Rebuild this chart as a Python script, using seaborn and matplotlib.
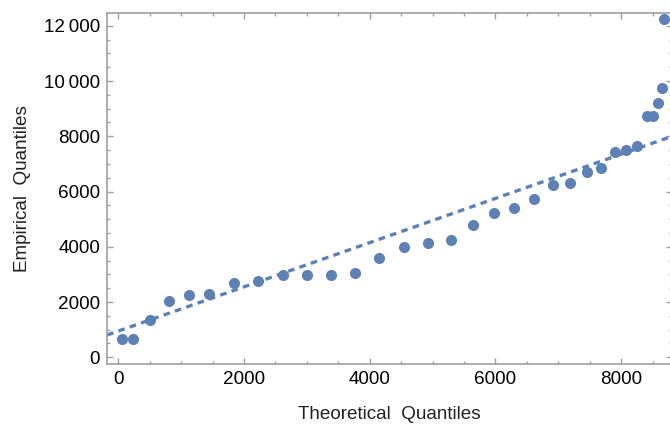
import matplotlib
matplotlib.use("Agg")
import matplotlib.pyplot as plt
import seaborn as sns
import numpy as np
import pandas as pd
from matplotlib.ticker import MultipleLocator, FuncFormatter

# Data
theoretical = [64, 239, 509, 811, 1130, 1448, 1846, 2227, 2625, 3007, 3389, 3771,
               4153, 4550, 4932, 5298, 5648, 5983, 6301, 6619, 6921, 7192, 7462,
               7685, 7908, 8083, 8258, 8417, 8512, 8592, 8655, 8687]
empirical = [662, 662, 1349, 2036, 2253, 2289, 2687, 2760, 2977, 2977, 2977, 3049,
             3591, 3989, 4134, 4242, 4785, 5219, 5400, 5725, 6232, 6305, 6703,
             6847, 7426, 7498, 7643, 8728, 8728, 9198, 9741, 12237]
line_intercept = 950
line_slope = 0.80
x_ticks = [0, 2000, 4000, 6000, 8000]
y_ticks = [0, 2000, 4000, 6000, 8000, 10000, 12000]

df = pd.DataFrame({"Theoretical": theoretical, "Empirical": empirical})

sns.set_theme(style="white")
plt.rcParams['font.family'] = ['Liberation Sans', 'DejaVu Sans']

blue = "#5E81B5"
frame = "#A0A0A0"

fig = plt.figure(figsize=(6.7, 4.25), dpi=100)
ax = fig.add_axes([107 / 670, 61 / 425, 565 / 670, 351 / 425])

xlim = (-180, 8810)
ylim = (-242, 12461)

xs = np.array(xlim, dtype=float)
ax.plot(xs, line_intercept + line_slope * xs, color=blue, lw=2.4,
        dashes=(2.0, 1.6), zorder=2)
sns.scatterplot(data=df, x="Theoretical", y="Empirical", ax=ax, color=blue,
                s=64, linewidth=0, zorder=3, clip_on=True)

ax.set_xlim(*xlim)
ax.set_ylim(*ylim)

def fmt(v, pos):
    v = int(round(v))
    if abs(v) >= 10000:
        return f"{v:,}".replace(",", "\u2009")
    return str(v)

ax.set_xticks(x_ticks)
ax.set_yticks(y_ticks)
ax.xaxis.set_major_formatter(FuncFormatter(fmt))
ax.yaxis.set_major_formatter(FuncFormatter(fmt))
ax.xaxis.set_minor_locator(MultipleLocator(500))
ax.yaxis.set_minor_locator(MultipleLocator(500))

ax.tick_params(which="both", direction="in", top=True, right=True,
               bottom=True, left=True, color=frame, width=1.0,
               labelsize=13.6, labelcolor="black")
ax.tick_params(which="major", length=4.4, pad=5)
ax.tick_params(which="minor", length=2.2)

for sp in ax.spines.values():
    sp.set_visible(True)
    sp.set_color(frame)
    sp.set_linewidth(1.2)

ax.set_xlabel("Theoretical  Quantiles", fontsize=13.6, labelpad=13, color="#222222")
ax.set_ylabel("Empirical  Quantiles", fontsize=13.6, labelpad=9, color="#222222")
ax.grid(False)

fig.savefig("out.png", dpi=100)
